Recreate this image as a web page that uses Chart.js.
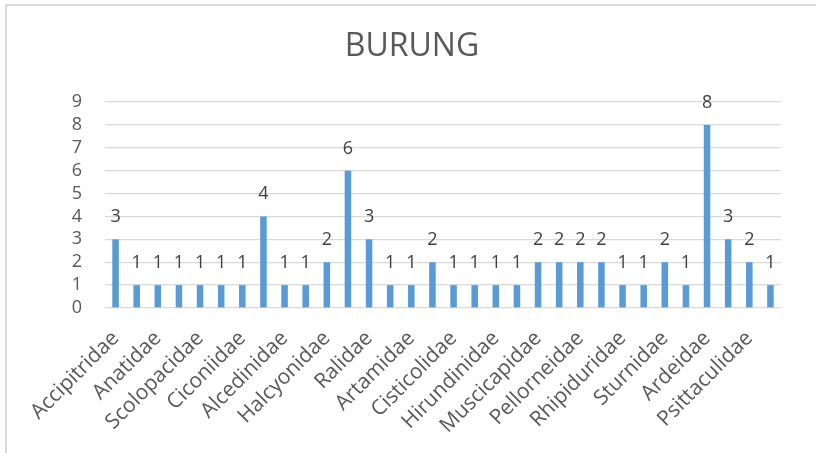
<!DOCTYPE html>
<html>
<head>
<meta charset="utf-8">
<script src="https://cdn.jsdelivr.net/npm/chart.js@4.4.1/dist/chart.umd.min.js"></script>
<style>
  html, body { margin: 0; padding: 0; background: #ffffff; overflow: hidden; }
  #frame {
    position: absolute; left: 5px; top: 4px; width: 840px; height: 480px;
    border-top: 2px solid #d9d9d9; border-left: 2px solid #d9d9d9; box-sizing: border-box;
  }
  #chart { position: absolute; left: 0; top: 0; }
</style>
</head>
<body>
<div id="frame"></div>
<canvas id="chart" width="816" height="453"></canvas>
<script>
// Bird families (every second family name is printed on the axis)
const chartTitle = 'BURUNG';
const families = [
  'Accipitridae', '', 'Anatidae', '', 'Scolopacidae', '', 'Ciconiidae', '',
  'Alcedinidae', '', 'Halcyonidae', '', 'Ralidae', '', 'Artamidae', '',
  'Cisticolidae', '', 'Hirundinidae', '', 'Muscicapidae', '', 'Pellorneidae', '',
  'Rhipiduridae', '', 'Sturnidae', '', 'Ardeidae', '', 'Psittaculidae', ''
];
// Number of species per family
const counts = [
  3, 1, 1, 1, 1, 1, 1, 4, 1, 1, 2, 6, 3, 1, 1, 2,
  1, 1, 1, 1, 2, 2, 2, 2, 1, 1, 2, 1, 8, 3, 2, 1
];
const yMin = 0;
const yMax = 9;
const yStep = 1;

const FONT = '"Open Sans", "Liberation Sans", sans-serif';
const TEXT = '#595959';

// Centred chart title
const titlePlugin = {
  id: 'titleText',
  afterDraw(chart) {
    const ctx = chart.ctx;
    ctx.save();
    ctx.font = '32px ' + FONT;
    ctx.fillStyle = TEXT;
    ctx.textAlign = 'center';
    ctx.textBaseline = 'middle';
    ctx.fillText(chartTitle, chart.width / 2 + 4, 47);
    ctx.restore();
  }
};

// Value labels above each bar
const valueLabels = {
  id: 'valueLabels',
  afterDatasetsDraw(chart) {
    const ctx = chart.ctx;
    const meta = chart.getDatasetMeta(0);
    ctx.save();
    ctx.font = '18px ' + FONT;
    ctx.fillStyle = '#404040';
    ctx.textAlign = 'center';
    ctx.textBaseline = 'alphabetic';
    meta.data.forEach((bar, i) => {
      ctx.fillText(String(counts[i]), bar.x, bar.y - 17);
    });
    ctx.restore();
  }
};

new Chart(document.getElementById('chart'), {
  type: 'bar',
  data: {
    labels: families,
    datasets: [{
      data: counts,
      backgroundColor: '#5b9bd5',
      borderWidth: 0,
      categoryPercentage: 1,
      barPercentage: 0.31
    }]
  },
  options: {
    responsive: false,
    animation: false,
    devicePixelRatio: 1,
    layout: { padding: { top: 102, right: 35, left: 0, bottom: 0 } },
    plugins: {
      legend: { display: false },
      title: { display: false },
      tooltip: { enabled: false }
    },
    scales: {
      x: {
        grid: { display: false },
        border: { display: false },
        ticks: {
          autoSkip: false,
          minRotation: 45,
          maxRotation: 45,
          padding: 10,
          color: TEXT,
          font: { family: FONT, size: 21 }
        },
        afterFit(scale) { scale.height = 145; }
      },
      y: {
        min: yMin,
        max: yMax,
        grid: { color: '#d9d9d9', lineWidth: 1.3, drawTicks: false },
        border: { display: false },
        ticks: {
          stepSize: yStep,
          autoSkip: false,
          padding: 23,
          color: TEXT,
          font: { family: FONT, size: 18 }
        },
        afterFit(scale) { scale.width = 105; }
      }
    }
  },
  plugins: [titlePlugin, valueLabels]
});
</script>
</body>
</html>
